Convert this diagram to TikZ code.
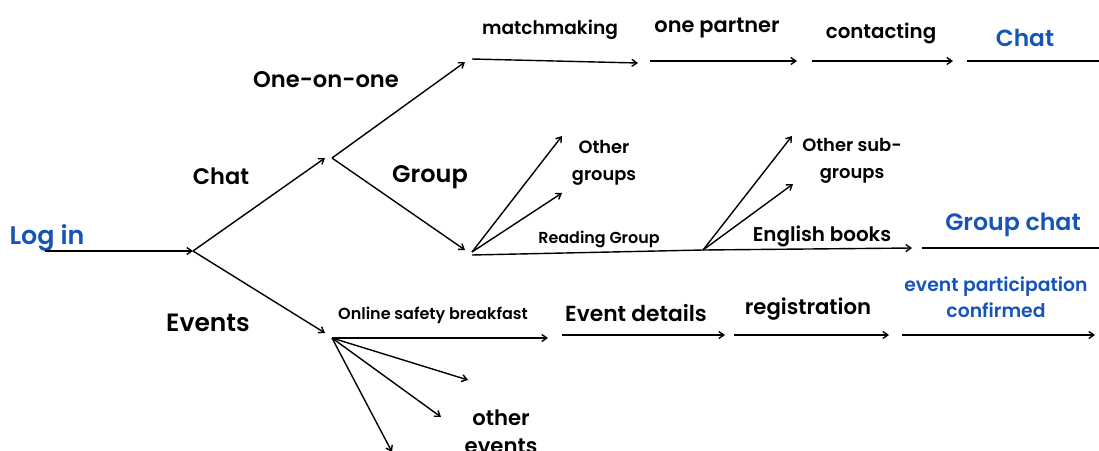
\documentclass[tikz,border=0pt]{standalone}
\usepackage{fontspec}
\setmainfont{Poppins}[UprightFont={* SemiBold}, BoldFont={* Bold}]
\usetikzlibrary{arrows.meta}
\definecolor{linkblue}{RGB}{22,84,184}
\newcommand{\fs}[2]{\fontsize{#1}{#2}\selectfont}
\tikzset{
  flow/.style={line width=1.4pt, -{Straight Barb[length=5pt,width=7pt,line width=1.4pt]}},
  plain/.style={line width=1.4pt},
  lbl/.style={inner sep=0pt, anchor=center, align=center, yshift=-2.5pt},
  blue/.style={text=linkblue}
}
\begin{document}
\begin{tikzpicture}[x=1pt,y=-1pt]
\useasboundingbox (0,0) rectangle (1099,450);

% branching points and free ends
\coordinate (login) at (45,251);
\coordinate (root) at (193,251);
\coordinate (chatIn) at (325,158);
\coordinate (chatOut) at (332,158);
\coordinate (evIn) at (325,333);
\coordinate (evOut) at (332,338);
\coordinate (oneIn) at (465,62);
\coordinate (grpIn) at (465,250);
\coordinate (grpOut) at (472,252);
\coordinate (grpBase) at (472,255);
\coordinate (og1) at (562,136);
\coordinate (og2) at (562,193);
\coordinate (rgEnd) at (703,250);
\coordinate (os1) at (792,136);
\coordinate (os2) at (793,184);

% top row: one-on-one chat
\coordinate (m0) at (472,59);  \coordinate (m1) at (638,63);
\coordinate (p0) at (650,61);  \coordinate (p1) at (797,61);
\coordinate (c0) at (812,61);  \coordinate (c1) at (953,61);
\coordinate (ch0) at (967,61); \coordinate (ch1) at (1099,61);
% group row
\coordinate (eb1) at (912,248);
\coordinate (gc0) at (922,248); \coordinate (gc1) at (1099,248);
% events row
\coordinate (osb1) at (548,338);
\coordinate (oe1) at (468,380);
\coordinate (oe2) at (441,417);
\coordinate (oe3) at (392,452);
\coordinate (ed0) at (562,335); \coordinate (ed1) at (725,335);
\coordinate (rg0) at (734,335); \coordinate (rg1) at (889,335);
\coordinate (ep0) at (902,335); \coordinate (ep1) at (1095,335);

% labels
\node[lbl, blue, font=\fs{25.4}{28}] (tLogin) at (47,236) {Log in};
\node[lbl, font=\fs{22.5}{26}] (tChat) at (221,174) {Chat};
\node[lbl, font=\fs{25}{28}] (tEvents) at (208,320) {Events};
\node[lbl, font=\fs{22.6}{26}] (tOne) at (326,77) {One-on-one};
\node[lbl, font=\fs{24}{28}] (tGroup) at (430,175) {Group};
\node[lbl, font=\fs{18.6}{22}] (tMatch) at (550,27) {matchmaking};
\node[lbl, font=\fs{20.9}{24}] (tPartner) at (717,26) {one partner};
\node[lbl, font=\fs{19.8}{24}] (tContact) at (881,31) {contacting};
\node[lbl, blue, font=\fs{23.3}{26}] (tChat2) at (1025,35) {Chat};
\node[lbl, font=\fs{17.8}{27}] (tOther) at (604,160) {Other\\groups};
\node[lbl, font=\fs{15.9}{18}] (tReading) at (599,237) {Reading Group};
\node[lbl, font=\fs{17.9}{27}] (tOtherSub) at (852,158) {Other sub-\\groups};
\node[lbl, font=\fs{19.9}{24}] (tEnglish) at (822,234) {English books};
\node[lbl, blue, font=\fs{23.7}{26}] (tGroupChat) at (1013,222) {Group chat};
\node[lbl, font=\fs{16}{18}] (tBreakfast) at (433,313) {Online safety breakfast};
\node[lbl, font=\fs{21.8}{24}] (tDetails) at (636,311) {Event details};
\node[lbl, font=\fs{21.2}{24}] (tReg) at (808,307) {registration};
\node[lbl, blue, font=\fs{18.8}{26}] (tPart) at (996,295) {event participation\\confirmed};
\node[lbl, font=\fs{21.2}{28}] (tOtherEv) at (501,429) {other\\events};

% connectors
\draw[flow] (login) -- (root);
\draw[flow] (root) -- (chatIn);
\draw[flow] (root) -- (evIn);
\draw[flow] (chatOut) -- (oneIn);
\draw[flow] (chatOut) -- (grpIn);
\draw[flow] (m0) -- (m1);
\draw[flow] (p0) -- (p1);
\draw[flow] (c0) -- (c1);
\draw[plain] (ch0) -- (ch1);
\draw[flow] (grpOut) -- (og1);
\draw[flow] (grpOut) -- (og2);
\draw[plain] (grpBase) -- (rgEnd);
\draw[flow] (rgEnd) -- (os1);
\draw[flow] (rgEnd) -- (os2);
\draw[flow] (rgEnd) -- (eb1);
\draw[plain] (gc0) -- (gc1);
\draw[flow] (evOut) -- (osb1);
\draw[flow] (evOut) -- (oe1);
\draw[flow] (evOut) -- (oe2);
\draw[flow] (evOut) -- (oe3);
\draw[flow] (ed0) -- (ed1);
\draw[flow] (rg0) -- (rg1);
\draw[flow] (ep0) -- (ep1);
\end{tikzpicture}
\end{document}
